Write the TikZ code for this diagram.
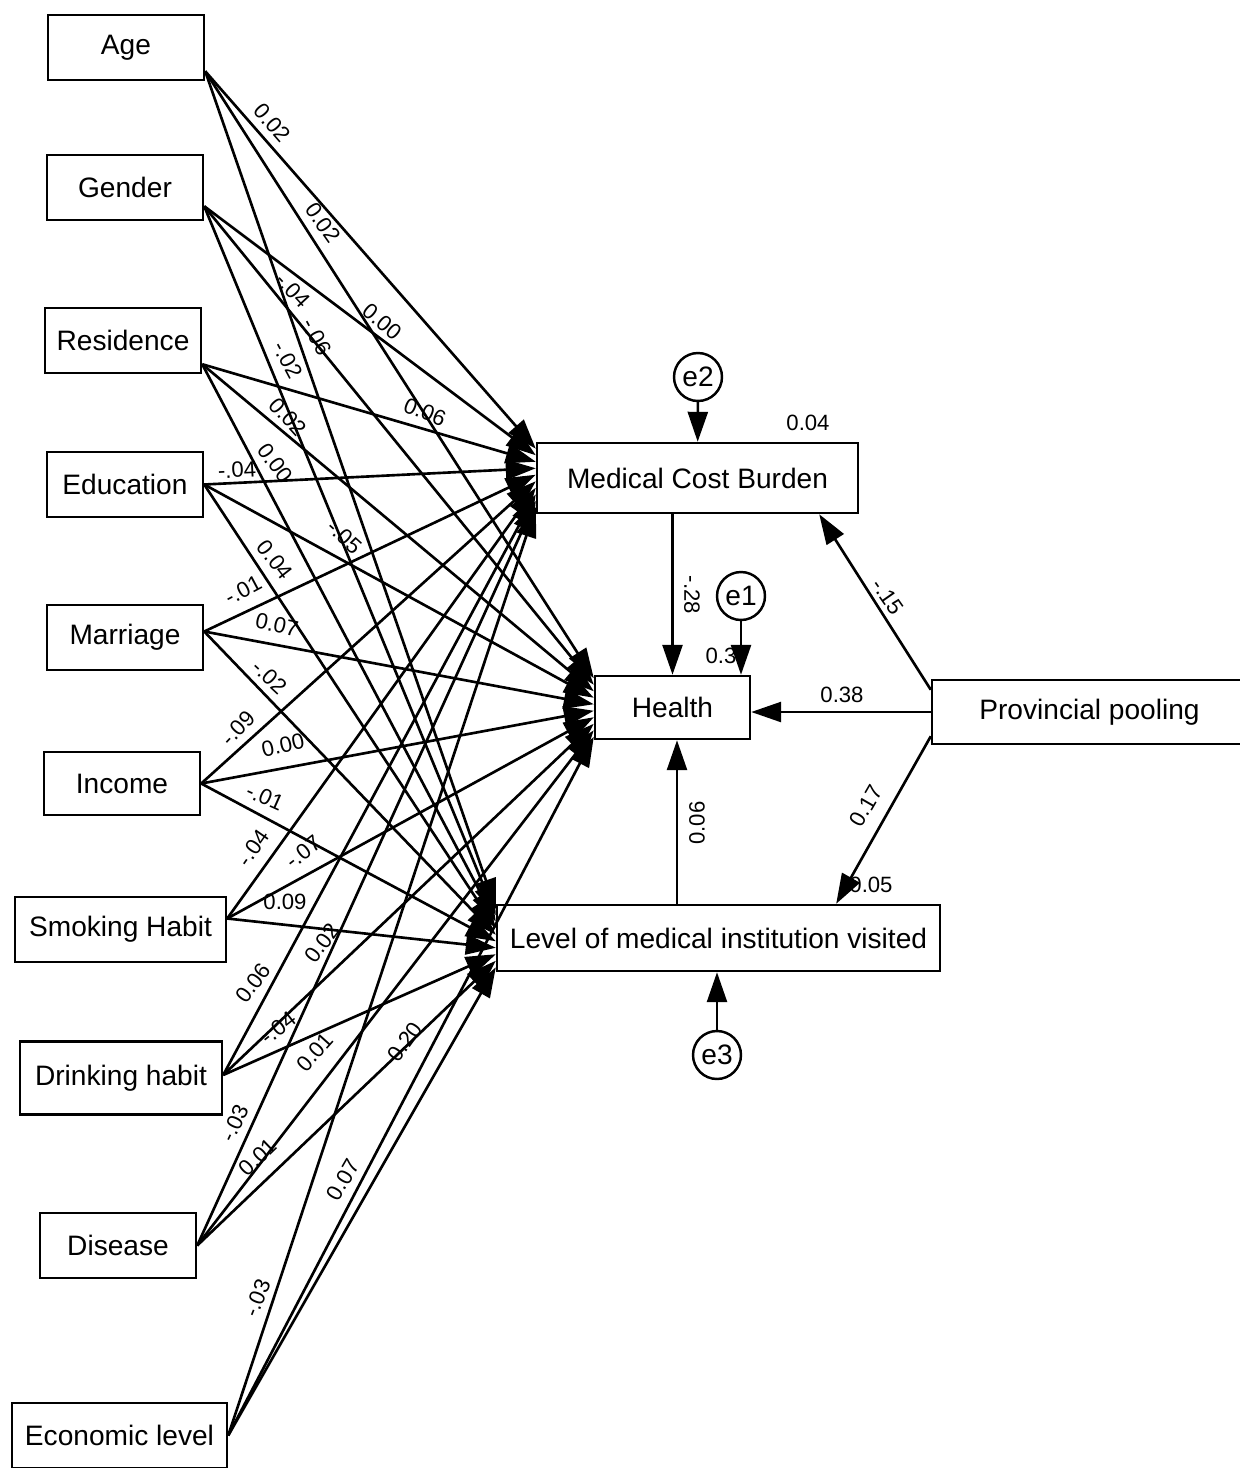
\documentclass[tikz,border=0pt]{standalone}
\usepackage{fontspec}
\setmainfont{Liberation Sans}
\usetikzlibrary{arrows.meta}

\newcommand{\boxfont}{\fontsize{16}{18}\selectfont}
\newcommand{\coeffont}{\fontsize{12.6}{14}\selectfont}

\begin{document}
\begin{tikzpicture}[
    x=0.02cm, y=-0.02cm,
    every node/.style={font=\boxfont},
    var/.style={rectangle,draw,line width=1.4pt,minimum width=3.12cm,minimum height=1.3cm,inner sep=0pt},
    err/.style={circle,draw,line width=1.4pt,minimum size=0.96cm,inner sep=0pt},
    reg/.style={line width=1.5pt,-{Triangle[length=0.6cm,width=0.4cm]}},
    coef/.style={font=\coeffont,inner sep=0pt}
]
\useasboundingbox (0,0) rectangle (1240,1468);

% Exogenous variables (left column)
\node[var] (age)       at (126,47.5)   {Age};
\node[var] (gender)    at (125,187.5)  {Gender};
\node[var] (residence) at (123,340.5)  {Residence};
\node[var] (education) at (125,484.5)  {Education};
\node[var] (marriage)  at (125,637.5)  {Marriage};
\node[var,minimum height=1.26cm] (income) at (122,783.5) {Income};
\node[var,minimum width=4.22cm] (smoking) at (120.5,929.5) {Smoking Habit};
\node[var,minimum width=4.04cm,minimum height=1.46cm] (drinking) at (121,1078) {Drinking habit};
\node[var] (disease)   at (118,1245.5) {Disease};
\node[var,minimum width=4.3cm] (economic) at (119.5,1435.5) {Economic level};

% Mediators, outcome and policy
\node[var,minimum width=6.42cm,minimum height=1.4cm]  (mcb)     at (697.5,478) {Medical Cost Burden};
\node[var,minimum width=3.1cm,minimum height=1.26cm]  (health)  at (672.5,707.5) {Health};
\node[var,minimum width=8.86cm,minimum height=1.32cm] (level)   at (718.5,938) {Level of medical institution visited};
\node[var,minimum width=6.3cm,minimum height=1.28cm]  (pooling) at (1089.5,712) {Provincial pooling};

% Error terms
\node[err] (e2) at (698,377)  {e2};
\node[err] (e1) at (741,596)  {e1};
\node[err] (e3) at (717,1055) {e3};

% Start points of the paths on the left
\coordinate (sAge) at ([yshift=0.2cm]age.south east);
\coordinate (sGen) at ([yshift=0.3cm]gender.south east);
\coordinate (sRes) at ([yshift=0.2cm]residence.south east);
\coordinate (sEdu) at (education.east);
\coordinate (sMar) at ([yshift=0.12cm]marriage.east);
\coordinate (sInc) at (income.east);
\coordinate (sSmo) at ([yshift=0.22cm]smoking.east);
\coordinate (sDri) at ([yshift=0.06cm]drinking.east);
\coordinate (sDis) at (disease.east);
\coordinate (sEco) at (economic.east);

% Paths to the three endogenous variables
\path[reg] (sAge) edge ([yshift=0.585cm]mcb.west) edge ([yshift=0.585cm]health.west) edge ([yshift=0.585cm]level.west);
\path[reg] (sGen) edge ([yshift=0.455cm]mcb.west) edge ([yshift=0.455cm]health.west) edge ([yshift=0.455cm]level.west);
\path[reg] (sRes) edge ([yshift=0.325cm]mcb.west) edge ([yshift=0.325cm]health.west) edge ([yshift=0.325cm]level.west);
\path[reg] (sEdu) edge ([yshift=0.195cm]mcb.west) edge ([yshift=0.195cm]health.west) edge ([yshift=0.195cm]level.west);
\path[reg] (sMar) edge ([yshift=0.065cm]mcb.west) edge ([yshift=0.065cm]health.west) edge ([yshift=0.065cm]level.west);
\path[reg] (sInc) edge ([yshift=-0.065cm]mcb.west) edge ([yshift=-0.065cm]health.west) edge ([yshift=-0.065cm]level.west);
\path[reg] (sSmo) edge ([yshift=-0.195cm]mcb.west) edge ([yshift=-0.195cm]health.west) edge ([yshift=-0.195cm]level.west);
\path[reg] (sDri) edge ([yshift=-0.325cm]mcb.west) edge ([yshift=-0.325cm]health.west) edge ([yshift=-0.325cm]level.west);
\path[reg] (sDis) edge ([yshift=-0.455cm]mcb.west) edge ([yshift=-0.455cm]health.west) edge ([yshift=-0.455cm]level.west);
\path[reg] (sEco) edge ([yshift=-0.585cm]mcb.west) edge ([yshift=-0.585cm]health.west) edge ([yshift=-0.585cm]level.west);

% Paths among mediators and outcome
\coordinate (hb) at ([xshift=0.09cm]health.south);
\draw[reg] (e2) -- (mcb);
\draw[reg] (e1) -- (e1 |- health.north);
\draw[reg] (e3) -- (e3 |- level.south);
\draw[reg] (mcb.south -| health.north) -- (health.north);
\draw[reg] (level.north -| hb) -- (hb);
\draw[reg] ([yshift=-0.22cm]pooling.north west) -- ([xshift=-0.8cm]mcb.south east);
\draw[reg] (pooling.west) -- (pooling.west -| health.east);
\draw[reg] ([yshift=0.18cm]pooling.south west) -- ([xshift=-2.1cm]level.north east);

% Estimates on the right
\node[coef] at (808,423) {0.04};
\node[coef,rotate=-90] at (692,595) {-.28};
\node[coef] at (721,656) {0.3};
\node[coef,rotate=-55] at (888,597) {-.15};
\node[coef] at (842,695) {0.38};
\node[coef,rotate=60] at (866,806) {0.17};
\node[coef] at (871,885) {0.05};
\node[coef,rotate=90] at (697,823) {0.06};

% Estimates on the fan of paths
\node[coef,rotate=-49] at (272,123)  {0.02};
\node[coef,rotate=-55] at (323,223)  {0.02};
\node[coef,rotate=-47] at (293,290)  {-.04};
\node[coef,rotate=-40] at (382,322)  {0.00};
\node[coef,rotate=-62] at (317,337)  {-.06};
\node[coef,rotate=-62] at (288,360)  {-.02};
\node[coef,rotate=-22] at (425,412)  {0.06};
\node[coef,rotate=-48] at (288,417)  {0.02};
\node[coef,rotate=3]   at (237,470)  {-.04};
\node[coef,rotate=-54] at (275,463)  {0.00};
\node[coef,rotate=-42] at (345,537)  {-.05};
\node[coef,rotate=-52] at (275,560)  {0.04};
\node[coef,rotate=28]  at (243,590)  {-.01};
\node[coef,rotate=-12] at (277,625)  {0.07};
\node[coef,rotate=-43] at (270,677)  {-.02};
\node[coef,rotate=47]  at (238,728)  {-.09};
\node[coef,rotate=13]  at (283,745)  {0.00};
\node[coef,rotate=-24] at (265,797)  {-.01};
\node[coef,rotate=55]  at (253,848)  {-.04};
\node[coef,rotate=38]  at (303,852)  {-.07};
\node[coef]            at (285,902)  {0.09};
\node[coef,rotate=53]  at (322,943)  {0.02};
\node[coef,rotate=53]  at (253,983)  {0.06};
\node[coef,rotate=38]  at (278,1028) {-.04};
\node[coef,rotate=48]  at (315,1052) {0.01};
\node[coef,rotate=54]  at (405,1042) {0.20};
\node[coef,rotate=65]  at (235,1123) {-.03};
\node[coef,rotate=44]  at (258,1157) {0.01};
\node[coef,rotate=60]  at (343,1180) {0.07};
\node[coef,rotate=68]  at (257,1298) {-.03};

\end{tikzpicture}
\end{document}
